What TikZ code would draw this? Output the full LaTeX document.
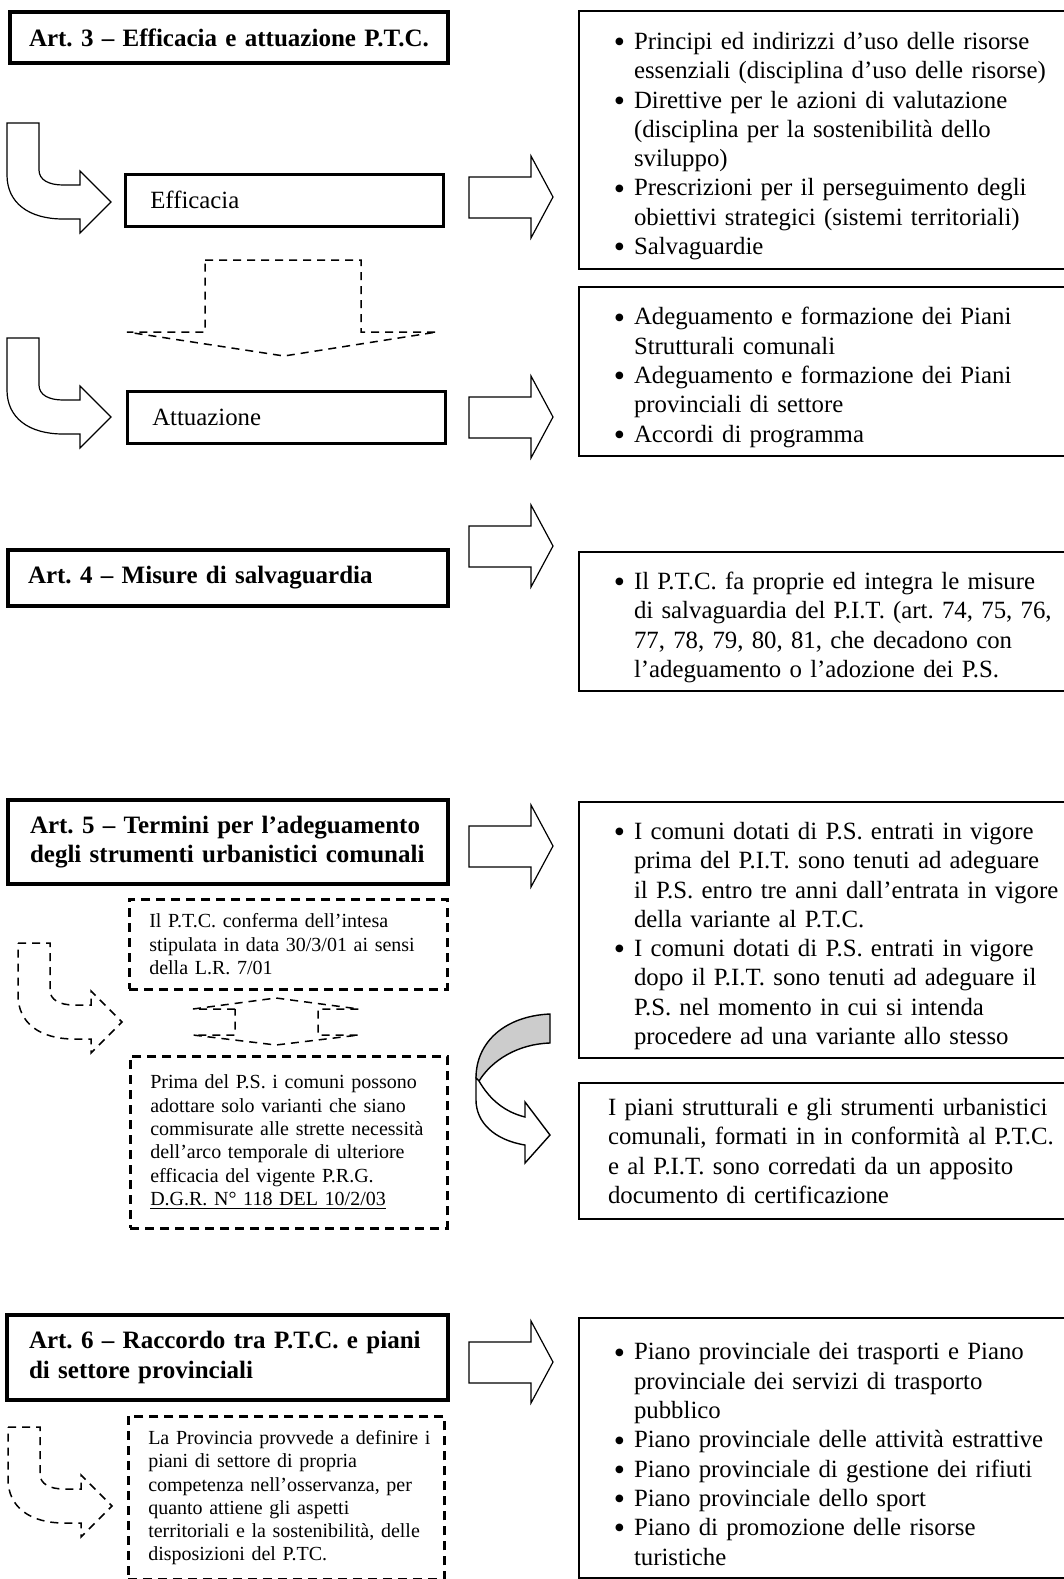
\documentclass[tikz,border=0pt]{standalone}
\usepackage{fontspec}
\setmainfont{Liberation Serif}
\usepackage{enumitem}
\usepackage{tikz}
\setlength{\parindent}{0pt}
\frenchspacing
\setlist[itemize]{nosep,leftmargin=27.5pt,labelsep=4.5pt,
  label={\raisebox{-1.6pt}{\fontsize{16}{16}\selectfont\textbullet}}}
\tikzset{
  titlebox/.style={draw,line width=2pt,anchor=north west,inner sep=0pt,text width=219pt,
    align=left,font=\fontsize{12.5}{14.6}\selectfont\bfseries},
  stagebox/.style={draw,line width=1.3pt,anchor=north west,inner xsep=12.5pt,inner ysep=0pt,
    align=left,font=\fontsize{12.4}{14.65}\selectfont},
  listbox/.style={draw,line width=1pt,anchor=north west,inner sep=0pt,text width=246pt,
    font=\fontsize{12.4}{14.65}\selectfont},
  notebox/.style={draw,line width=1.25pt,dash pattern=on 4.5pt off 3pt,anchor=north west,
    inner sep=0pt,align=left,font=\fontsize{10}{11.65}\selectfont},
  blockarrow/.style={draw,line width=0.6pt,fill=white},
  dasharrow/.style={draw,line width=0.75pt,dash pattern=on 4pt off 3pt},
}

\begin{document}
\begin{tikzpicture}[x=0.5pt,y=-0.5pt]
\useasboundingbox (0,0) rectangle (1064,1579);

\node[titlebox,minimum height=25.5pt] (art3) at (8,10)
  {\leftskip=9.5pt Art. 3 – Efficacia e attuazione P.T.C.\par};
\node[stagebox,text width=134pt,minimum height=26pt] (eff) at (124,173) {Efficacia};
\node[stagebox,text width=134pt,minimum height=26pt] (att) at (126,390) {Attuazione};
\node[listbox,minimum height=129pt] (effList) at (578,10) {%
  \begin{itemize}
  \item Principi ed indirizzi d’uso delle risorse\newline essenziali (disciplina d’uso delle risorse)
  \item Direttive per le azioni di valutazione\newline (disciplina per la sostenibilità dello\newline sviluppo)
  \item Prescrizioni per il perseguimento degli\newline obiettivi strategici (sistemi territoriali)
  \item Salvaguardie
  \end{itemize}\vspace*{3pt}};
\node[listbox,minimum height=84.5pt] (attList) at (578,286) {%
  \begin{itemize}
  \item Adeguamento e formazione dei Piani\newline Strutturali comunali
  \item Adeguamento e formazione dei Piani\newline provinciali di settore
  \item Accordi di programma
  \end{itemize}};

\node[titlebox,text width=220pt,minimum height=28pt] (art4) at (6,548)
  {\leftskip=10pt Art. 4 – Misure di salvaguardia\par};
\node[listbox,minimum height=69.5pt] (art4List) at (578,551) {%
  \begin{itemize}
  \item Il P.T.C. fa proprie ed integra le misure\newline di salvaguardia del P.I.T. (art. 74, 75, 76,\newline 77, 78, 79, 80, 81, che decadono con\newline l’adeguamento o l’adozione dei P.S.
  \end{itemize}\vspace*{4pt}};

\node[titlebox,text width=220pt,minimum height=42pt] (art5) at (6,798)
  {\leftskip=11pt Art. 5 – Termini per l’adeguamento\\degli strumenti urbanistici comunali\par};
\node[listbox,minimum height=128pt] (art5List) at (578,801) {%
  \begin{itemize}
  \item I comuni dotati di P.S. entrati in vigore\newline prima del P.I.T. sono tenuti ad adeguare\newline il P.S. entro tre anni dall’entrata in vigore\newline della variante al P.T.C.
  \item I comuni dotati di P.S. entrati in vigore\newline dopo il P.I.T. sono tenuti ad adeguare il\newline P.S. nel momento in cui si intenda\newline procedere ad una variante allo stesso
  \end{itemize}};
\node[notebox,text width=159pt,minimum height=45pt] (intesa) at (128,898)
  {\leftskip=10pt Il P.T.C. conferma dell’intesa\\stipulata in data 30/3/01 ai sensi\\della L.R. 7/01\par};
\node[notebox,text width=158.5pt,minimum height=86pt] (prima) at (129,1055)
  {\leftskip=10pt Prima del P.S. i comuni possono\\adottare solo varianti che siano\\commisurate alle strette necessità\\dell’arco temporale di ulteriore\\efficacia del vigente P.R.G.\\\underline{D.G.R. N° 118 DEL 10/2/03}\par\vspace*{5pt}};
\node[listbox,minimum height=68pt] (certif) at (578,1082)
  {\leftskip=14.5pt I piani strutturali e gli strumenti urbanistici\newline comunali, formati in in conformità al P.T.C.\newline e al P.I.T. sono corredati da un apposito\newline documento di certificazione\par};

\node[titlebox,text width=220.5pt,minimum height=42.5pt] (art6) at (5,1313)
  {\leftskip=11pt Art. 6 – Raccordo tra P.T.C. e piani\\di settore provinciali\par};
\node[listbox,minimum height=130pt] (art6List) at (578,1317) {%
  \begin{itemize}
  \item Piano provinciale dei trasporti e Piano\newline provinciale dei servizi di trasporto\newline pubblico
  \item Piano provinciale delle attività estrattive
  \item Piano provinciale di gestione dei rifiuti
  \item Piano provinciale dello sport
  \item Piano di promozione delle risorse\newline turistiche
  \end{itemize}\vspace*{5pt}};
\node[notebox,text width=158pt,minimum height=81.5pt] (provincia) at (127,1415)
  {\leftskip=10pt La Provincia provvede a definire i\\piani di settore di propria\\competenza nell’osservanza, per\\quanto attiene gli aspetti\\territoriali e la sostenibilità, delle\\disposizioni del P.TC.\par};

\foreach \dx/\dy/\kind in {7/123/blockarrow,7/338/blockarrow,18/943/dasharrow,8/1427/dasharrow}
  \draw[\kind,shift={(\dx,\dy)}] (0,0) -- (32,0) -- (32,47)
    .. controls (32,57) and (42,62) .. (56,62) -- (73,62) -- (73,48) -- (104,79)
    -- (73,110) -- (73,96) -- (56,96) .. controls (22,96) and (0,80) .. (0,52) -- cycle;

\foreach \dy in {0,220,349,649,1165}
  \draw[blockarrow,shift={(0,\dy)}] (469,177) -- (531,177) -- (531,156) -- (553,197)
    -- (531,238) -- (531,218) -- (469,218) -- cycle;

\draw[dasharrow] (205,260) -- (361,260) -- (361,332) -- (437,332) -- (284,356)
  -- (127,332) -- (205,332) -- cycle;
\draw[dasharrow] (235,1009) -- (193,1009) -- (276,998) -- (359,1009) -- (318,1009)
  -- (318,1035) -- (359,1035) -- (276,1045) -- (193,1035) -- (235,1035) -- cycle;

\draw[line width=0.7pt,fill=gray!40] (550,1014) .. controls (505,1016) and (476,1042) .. (476,1078)
  -- (479,1081) .. controls (492,1060) and (518,1044) .. (550,1043) -- cycle;
\draw[line width=0.7pt,fill=white] (479,1081) .. controls (490,1100) and (505,1112) .. (525,1117)
  -- (525,1102) -- (550,1135) -- (525,1163) -- (525,1145)
  .. controls (494,1140) and (476,1122) .. (476,1100) -- (476,1078) -- cycle;
\end{tikzpicture}
\end{document}
